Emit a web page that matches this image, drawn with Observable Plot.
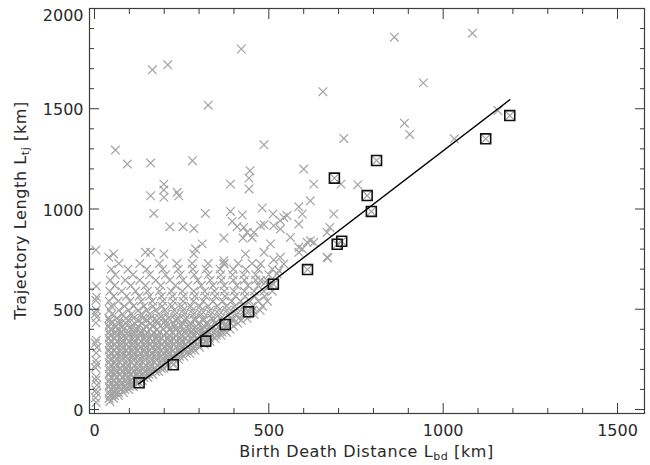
<!DOCTYPE html>
<html><head><meta charset="utf-8">
<script src="https://cdn.jsdelivr.net/npm/d3@7"></script>
<script src="https://cdn.jsdelivr.net/npm/@observablehq/plot@0.6"></script>
<style>body{margin:0;background:#fff} #chart{width:650px;height:465px}</style>
</head><body><div id="chart"></div>
<script>
const cloudRowY = [40, 55, 70, 85, 100, 115, 130, 145, 160, 175, 190, 205, 220, 235, 250, 265, 280, 295, 310, 325, 340, 355, 370, 385, 400, 415, 430, 445,
  455, 475, 495, 515, 540, 565, 590, 618, 645, 672, 700, 728];
const cloudRowX = [
  [44],
  [42, 55],
  [45, 57, 69],
  [43, 57, 69, 83],
  [46, 59, 75, 87, 98],
  [42, 58, 71, 88, 100, 111],
  [45, 61, 75, 93, 106, 122],
  [43, 57, 74, 91, 105, 122, 137],
  [47, 62, 79, 93, 111, 125, 142, 153],
  [42, 59, 74, 92, 106, 124, 138, 156, 167],
  [45, 60, 79, 93, 111, 126, 144, 158, 175, 184],
  [43, 60, 75, 93, 108, 126, 141, 159, 174, 191, 199],
  [46, 61, 80, 94, 113, 127, 146, 160, 179, 193, 210],
  [42, 59, 74, 93, 107, 126, 140, 159, 173, 192, 206, 223],
  [45, 62, 77, 95, 110, 128, 143, 161, 176, 194, 209, 227, 241],
  [43, 59, 78, 92, 111, 126, 144, 159, 178, 192, 211, 225, 244, 256],
  [46, 63, 78, 97, 111, 130, 145, 163, 178, 197, 211, 230, 245, 263, 273],
  [42, 58, 77, 92, 111, 125, 144, 159, 178, 193, 211, 226, 245, 260, 278, 288],
  [45, 63, 78, 97, 112, 131, 146, 165, 180, 199, 214, 233, 248, 267, 282, 301],
  [43, 59, 78, 93, 112, 127, 146, 161, 180, 195, 214, 229, 248, 263, 282, 297, 315],
  [46, 64, 79, 98, 113, 132, 147, 166, 181, 200, 215, 234, 249, 268, 283, 302, 317, 331],
  [42, 58, 77, 92, 111, 126, 145, 160, 179, 194, 213, 228, 247, 262, 281, 296, 315, 330, 346],
  [45, 63, 78, 97, 112, 131, 146, 165, 180, 199, 214, 233, 248, 267, 282, 301, 316, 335, 350, 363],
  [43, 62, 78, 98, 114, 134, 150, 170, 186, 206, 222, 242, 258, 278, 294, 314, 330, 350, 366, 379],
  [46, 66, 83, 104, 121, 142, 159, 180, 197, 218, 235, 256, 273, 294, 311, 332, 349, 370, 389],
  [42, 63, 82, 105, 124, 147, 166, 189, 208, 231, 250, 273, 292, 315, 334, 357, 376, 399],
  [45, 69, 90, 115, 136, 161, 182, 207, 228, 253, 274, 299, 320, 345, 366, 391, 411],
  [43, 71, 96, 125, 150, 179, 204, 233, 258, 287, 312, 341, 366, 395, 421],
  [41, 64, 90, 112, 138, 160, 186, 212, 236, 262, 288, 312, 338, 362, 390, 414, 438],
  [50, 80, 106, 134, 158, 184, 206, 232, 258, 284, 307, 334, 358, 384, 408, 432, 458],
  [43, 70, 98, 126, 150, 176, 202, 229, 254, 280, 306, 331, 356, 380, 405, 430, 454, 475],
  [48, 86, 112, 142, 168, 194, 222, 250, 276, 302, 326, 352, 378, 402, 428, 452, 482],
  [42, 68, 102, 134, 166, 196, 226, 254, 284, 312, 340, 368, 394, 420, 446, 470, 496],
  [55, 92, 128, 158, 192, 224, 256, 288, 318, 346, 374, 404, 432, 460, 488],
  [44, 78, 118, 152, 186, 220, 252, 285, 316, 344, 372, 400, 430, 458, 486, 510],
  [58, 104, 146, 190, 232, 268, 306, 340, 372, 408, 440, 470, 500],
  [45, 88, 130, 176, 216, 254, 296, 332, 364, 398, 430, 462, 494],
  [60, 110, 158, 204, 246, 286, 326, 362, 396, 428, 462, 500],
  [48, 96, 150, 196, 240, 282, 320, 360, 398, 434, 470, 510],
  [70, 130, 186, 236, 280, 326, 372, 412, 452]
];
// ---- short-distance column near L_bd = 0 ----
const columnX = [5, 3, 6, 4, 7, 4, 5, 3, 6, 4, 5, 7, 3, 5, 4, 6, 3, 5, 4, 6, 5, 4];
const columnY = [35, 58, 82, 98, 122, 146, 162, 208, 226, 246, 282, 310, 330, 346, 432, 460, 478, 496, 544, 560, 615, 795];
// ---- isolated trajectories ----
const sparseX = [166, 210, 421, 860, 1084, 943, 889, 904, 1032, 1157, 655, 326,
  60, 94, 161, 281, 486, 715, 600, 629, 707, 755,
  446, 443, 443, 390, 199, 199, 199, 161, 237, 242, 170, 318,
  216, 254, 285, 390, 424, 395, 409, 481, 476, 486, 512, 533, 543, 552, 586, 596, 619, 586, 562, 533, 514, 667, 686, 675, 667, 629, 610, 596, 669,
  41, 55, 146, 161, 199, 309, 290, 285, 371, 371, 371, 426, 433, 428, 438, 457, 452, 486, 476, 505, 514, 533, 543, 529, 524, 586, 586, 619, 476, 490, 505];
const sparseY = [1694, 1719, 1798, 1857, 1877, 1629, 1428, 1372, 1350, 1491, 1585, 1518,
  1294, 1224, 1229, 1241, 1320, 1352, 1199, 1124, 1124, 1121,
  1191, 1154, 1100, 1124, 1124, 1095, 1058, 1066, 1083, 1066, 978, 978,
  912, 912, 903, 988, 970, 938, 912, 1005, 917, 922, 975, 942, 958, 967, 1011, 975, 1041, 925, 858, 900, 917, 759, 975, 908, 883, 834, 834, 800, 756,
  759, 776, 784, 784, 776, 826, 800, 776, 855, 742, 726, 855, 776, 908, 883, 883, 858, 784, 726, 826, 746, 759, 726, 693, 676, 809, 784, 842, 643, 634, 618];
// ---- binned values (boxed) and fitted line ----
const squareX = [128, 226, 319, 375, 442, 513, 611, 696, 709, 688, 782, 794, 809, 1122, 1191];
const squareY = [133, 223, 341, 424, 487, 625, 698, 824, 839, 1154, 1067, 988, 1242, 1350, 1466];
const fitX = [127, 1191];
const fitY = [128, 1545];
// ---- ticks ----
const xLabelTicks = [0, 500, 1000, 1500];
const yLabelTicks = [0, 500, 1000, 1500];
const yTopLabel = [2000];
const xMinorTicks = d3.range(0, 1600, 100).filter(v => v % 500 !== 0);
const yMinorTicks = d3.range(0, 2001, 100).filter(v => v % 500 !== 0);
const xMajorTicks = [0, 500, 1000, 1500];
const yMajorTicks = [0, 500, 1000, 1500, 2000];

const gray = [];
cloudRowY.forEach((y, i) => cloudRowX[i].forEach(x => gray.push({x, y})));
columnX.forEach((x, i) => gray.push({x, y: columnY[i]}));
sparseX.forEach((x, i) => gray.push({x, y: sparseY[i]}));
squareX.forEach((x, i) => gray.push({x, y: squareY[i]}));
const squares = squareX.map((x, i) => ({x, y: squareY[i]}));
const fit = fitX.map((x, i) => ({x, y: fitY[i]}));

const font = "DejaVu Sans";
const axisColor = "#3c3c3c";
const fmt = d => String(d);
const tk = {fill: "none", stroke: axisColor, label: null, strokeWidth: 1};
const lb = {stroke: "none", fill: "#2a2a2a", label: null, tickSize: 0, tickFormat: fmt, fontSize: 16, fontFamily: font};

const plot = Plot.plot({
  width: 650, height: 465,
  marginLeft: 89, marginRight: 6, marginTop: 8, marginBottom: 52,
  x: {domain: [-14.3, 1577.4]},
  y: {domain: [-20, 2000]},
  style: {fontFamily: font, fontSize: "16px", background: "#fff", color: "#2a2a2a"},
  marks: [
    Plot.dot(gray, {x: "x", y: "y", symbol: "times", r: 4, stroke: "#a3a3a3", strokeWidth: 1.2}),
    Plot.line(fit, {x: "x", y: "y", stroke: "#000", strokeWidth: 1.4}),
    Plot.dot(squares, {x: "x", y: "y", symbol: "square", r: 5.6, stroke: "#111", strokeWidth: 1.6, fill: "none"}),
    Plot.frame({stroke: axisColor, strokeWidth: 1.2}),
    Plot.axisX({anchor: "bottom", ticks: xMajorTicks, tickSize: 10, dy: -10, ...tk}),
    Plot.axisX({anchor: "bottom", ticks: xMinorTicks, tickSize: 5, dy: -5, ...tk}),
    Plot.axisX({anchor: "top", ticks: xMajorTicks, tickSize: 10, dy: 10, ...tk}),
    Plot.axisX({anchor: "top", ticks: xMinorTicks, tickSize: 5, dy: 5, ...tk}),
    Plot.axisY({anchor: "left", ticks: yMajorTicks, tickSize: 10, dx: 10, ...tk}),
    Plot.axisY({anchor: "left", ticks: yMinorTicks, tickSize: 5, dx: 5, ...tk}),
    Plot.axisY({anchor: "right", ticks: yMajorTicks, tickSize: 10, dx: -10, ...tk}),
    Plot.axisY({anchor: "right", ticks: yMinorTicks, tickSize: 5, dx: -5, ...tk}),
    Plot.axisX({anchor: "bottom", ticks: xLabelTicks, tickPadding: 11, ...lb}),
    Plot.axisY({anchor: "left", ticks: yLabelTicks, tickPadding: 6, dy: 1.5, ...lb}),
    Plot.axisY({anchor: "left", ticks: yTopLabel, tickPadding: 6, dy: 7, ...lb})
  ]
});
document.getElementById("chart").appendChild(plot);

const svg = d3.select(plot);
const xt = svg.append("text").attr("x", 366.5).attr("y", 457).attr("text-anchor", "middle")
  .attr("font-family", font).attr("font-size", 16).attr("fill", "#2a2a2a").attr("letter-spacing", 0.6);
xt.append("tspan").text("Birth Death Distance L");
xt.append("tspan").attr("font-size", 11).attr("dy", 3).text("bd");
xt.append("tspan").attr("dy", -3).text(" [km]");

const yt = svg.append("text").attr("transform", "translate(26,210.5) rotate(-90)").attr("text-anchor", "middle")
  .attr("font-family", font).attr("font-size", 16).attr("fill", "#2a2a2a").attr("letter-spacing", 0.6);
yt.append("tspan").text("Trajectory Length L");
yt.append("tspan").attr("font-size", 11).attr("dy", 3).text("tj");
yt.append("tspan").attr("dy", -3).text(" [km]");
</script>
</body></html>
